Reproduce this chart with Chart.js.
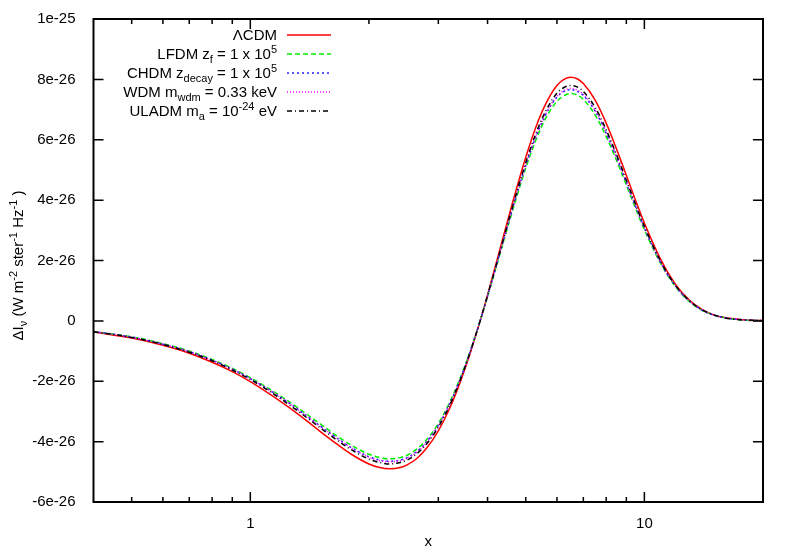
<!DOCTYPE html>
<html>
<head>
<meta charset="utf-8">
<script src="https://cdn.jsdelivr.net/npm/chart.js@4"></script>
<style>
  html, body { margin: 0; padding: 0; background: #fff; }
</style>
</head>
<body>
<canvas id="chart" width="789" height="552"></canvas>
<script>
// x values (dimensionless frequency), y in units of 1e-26 W m^-2 ster^-1 Hz^-1
const xs = [0.4, 0.5, 0.6, 0.7, 0.8, 0.9, 1.0, 1.2, 1.35, 1.5, 1.65, 1.8, 2.0, 2.13, 2.26, 2.4, 2.5, 2.65, 2.8, 3.0,
  3.2, 3.4, 3.6, 3.83, 4.0, 4.2, 4.6, 5.0, 5.25, 5.5, 5.75, 6.0, 6.25, 6.5, 6.75, 7.0, 7.5, 8.0, 8.5, 9.0,
  9.5, 10, 11, 12, 13, 14, 15, 16, 18, 20];

const lcdm = [-0.37, -0.57, -0.81, -1.07, -1.37, -1.68, -2.01, -2.69, -3.18, -3.65, -4.06, -4.41, -4.74, -4.86, -4.90, -4.86, -4.77, -4.55, -4.22, -3.64,
  -2.92, -2.07, -1.14, 0, 0.86, 1.88, 3.79, 5.42, 6.26, 6.93, 7.44, 7.80, 8.00, 8.07, 8.02, 7.86, 7.31, 6.55, 5.69, 4.82,
  3.99, 3.24, 2.04, 1.21, 0.69, 0.38, 0.20, 0.11, 0.03, 0.01];

const lfdm = [-0.35, -0.53, -0.75, -1.00, -1.28, -1.57, -1.88, -2.51, -2.97, -3.40, -3.79, -4.11, -4.42, -4.53, -4.57, -4.53, -4.45, -4.24, -3.94, -3.40,
  -2.72, -1.93, -1.06, 0, 0.81, 1.75, 3.53, 5.06, 5.84, 6.47, 6.94, 7.27, 7.46, 7.53, 7.48, 7.34, 6.82, 6.11, 5.31, 4.50,
  3.72, 3.02, 1.90, 1.13, 0.64, 0.35, 0.19, 0.10, 0.02, 0.01];

const chdm = [-0.35, -0.54, -0.77, -1.02, -1.30, -1.60, -1.91, -2.55, -3.02, -3.47, -3.86, -4.19, -4.50, -4.61, -4.65, -4.61, -4.53, -4.32, -4.01, -3.46,
  -2.77, -1.97, -1.08, 0, 0.82, 1.78, 3.60, 5.15, 5.94, 6.58, 7.07, 7.41, 7.60, 7.66, 7.61, 7.47, 6.95, 6.22, 5.41, 4.58,
  3.79, 3.08, 1.93, 1.15, 0.66, 0.36, 0.19, 0.10, 0.03, 0.01];

const wdm = [-0.35, -0.54, -0.77, -1.02, -1.31, -1.60, -1.92, -2.56, -3.04, -3.48, -3.87, -4.20, -4.52, -4.63, -4.67, -4.63, -4.55, -4.34, -4.03, -3.48,
  -2.78, -1.98, -1.09, 0, 0.82, 1.79, 3.61, 5.17, 5.97, 6.61, 7.10, 7.44, 7.63, 7.70, 7.65, 7.50, 6.98, 6.25, 5.43, 4.60,
  3.81, 3.09, 1.94, 1.16, 0.66, 0.36, 0.19, 0.10, 0.03, 0.01];

const uladm = [-0.36, -0.55, -0.78, -1.04, -1.32, -1.63, -1.94, -2.60, -3.08, -3.53, -3.93, -4.26, -4.58, -4.69, -4.74, -4.69, -4.61, -4.39, -4.08, -3.52,
  -2.82, -2.00, -1.10, 0, 0.84, 1.81, 3.66, 5.24, 6.05, 6.70, 7.19, 7.54, 7.73, 7.80, 7.75, 7.60, 7.07, 6.33, 5.50, 4.66,
  3.86, 3.13, 1.97, 1.17, 0.67, 0.37, 0.20, 0.10, 0.03, 0.01];

const yTicks = [-6, -4, -2, 0, 2, 4, 6, 8, 10];
const xMajor = [1, 10];
const xMinor = [0.5, 0.6, 0.7, 0.8, 0.9, 2, 3, 4, 5, 6, 7, 8, 9];

// legend labels: [text, 'n' | 'sub' | 'sup']
const legendLabels = [
  [["\u039BCDM", "n"]],
  [["LFDM z", "n"], ["f", "sub"], [" = 1 x 10", "n"], ["5", "sup"]],
  [["CHDM z", "n"], ["decay", "sub"], [" = 1 x 10", "n"], ["5", "sup"]],
  [["WDM m", "n"], ["wdm", "sub"], [" = 0.33 keV", "n"]],
  [["ULADM m", "n"], ["a", "sub"], [" = 10", "n"], ["-24", "sup"], [" eV", "n"]]
];
const yTitle = [["\u0394I", "n"], ["\u03BD", "sub"], [" (W m", "n"], ["-2", "sup"], [" ster", "n"], ["-1", "sup"], [" Hz", "n"], ["-1", "sup"], [" )", "n"]];

const FONT = '"Liberation Sans", Arial, sans-serif';
Chart.defaults.font.family = FONT;

function pts(ys) {
  return xs.map((x, i) => ({ x: x, y: ys[i] }));
}

function fmtY(v) {
  if (v === 0) return "0";
  if (v === 10) return "1e-25";
  return v + "e-26";
}

function richWidth(ctx, parts) {
  let w = 0;
  parts.forEach(p => {
    ctx.font = (p[1] === "n" ? "15px " : "11px ") + FONT;
    w += ctx.measureText(p[0]).width;
  });
  return w;
}

function drawRich(ctx, parts, x, y) {
  let cx = x;
  parts.forEach(p => {
    ctx.font = (p[1] === "n" ? "15px " : "11px ") + FONT;
    const dy = p[1] === "sub" ? 4 : (p[1] === "sup" ? -6 : 0);
    ctx.fillText(p[0], cx, y + dy);
    cx += ctx.measureText(p[0]).width;
  });
}

const series = [
  { label: "LCDM", data: lcdm, color: "#ff0000", dash: [], order: 4 },
  { label: "LFDM", data: lfdm, color: "#00ee00", dash: [5, 3], order: 3 },
  { label: "CHDM", data: chdm, color: "#2020ff", dash: [2, 3], order: 2 },
  { label: "WDM", data: wdm, color: "#ff00ff", dash: [1, 2], order: 1 },
  { label: "ULADM", data: uladm, color: "#000000", dash: [5, 3, 1, 3], order: 0 }
];

// border, inward ticks, legend and y title in gnuplot style
const gnuFrame = {
  id: "gnuFrame",
  afterDatasetsDraw(chart) {
    const { ctx, chartArea: a, scales: { x, y } } = chart;
    ctx.save();
    ctx.strokeStyle = "#000";
    ctx.lineWidth = 1.5;
    ctx.setLineDash([]);
    ctx.beginPath();
    yTicks.forEach(v => {
      const py = y.getPixelForValue(v);
      ctx.moveTo(a.left, py); ctx.lineTo(a.left + 10, py);
      ctx.moveTo(a.right, py); ctx.lineTo(a.right - 10, py);
    });
    xMajor.forEach(v => {
      const px = x.getPixelForValue(v);
      ctx.moveTo(px, a.bottom); ctx.lineTo(px, a.bottom - 10);
      ctx.moveTo(px, a.top); ctx.lineTo(px, a.top + 10);
    });
    xMinor.forEach(v => {
      const px = x.getPixelForValue(v);
      ctx.moveTo(px, a.bottom); ctx.lineTo(px, a.bottom - 5);
      ctx.moveTo(px, a.top); ctx.lineTo(px, a.top + 5);
    });
    ctx.stroke();
    ctx.lineWidth = 2;
    ctx.strokeRect(a.left, a.top, a.right - a.left, a.bottom - a.top);

    // legend
    ctx.fillStyle = "#000";
    ctx.textBaseline = "alphabetic";
    legendLabels.forEach((parts, i) => {
      const ly = 35 + i * 19;
      const w = richWidth(ctx, parts);
      drawRich(ctx, parts, 277 - w, ly + 5);
      const s = series[i];
      ctx.strokeStyle = s.color;
      ctx.lineWidth = 1.5;
      ctx.setLineDash(s.dash);
      ctx.beginPath();
      ctx.moveTo(287, ly); ctx.lineTo(331, ly);
      ctx.stroke();
    });
    ctx.setLineDash([]);

    // y axis title
    const tw = richWidth(ctx, yTitle);
    ctx.translate(18, (a.top + a.bottom) / 2 + 5);
    ctx.rotate(-Math.PI / 2);
    drawRich(ctx, yTitle, -tw / 2, 5);
    ctx.restore();
  }
};

new Chart(document.getElementById("chart").getContext("2d"), {
  type: "line",
  data: {
    datasets: series.map(s => ({
      label: s.label,
      data: pts(s.data),
      borderColor: s.color,
      borderWidth: 1.5,
      borderDash: s.dash,
      pointRadius: 0,
      fill: false,
      cubicInterpolationMode: "monotone",
      order: s.order
    }))
  },
  options: {
    responsive: false,
    animation: false,
    layout: { padding: { top: 17, right: 26, bottom: 0, left: 0 } },
    plugins: { legend: { display: false }, tooltip: { enabled: false } },
    scales: {
      x: {
        type: "logarithmic",
        min: 0.4,
        max: 20,
        afterBuildTicks: s => { s.ticks = xMajor.map(v => ({ value: v })); },
        afterFit: s => { s.height = 50; },
        grid: { display: false },
        border: { display: false },
        ticks: { color: "#000", font: { size: 15 }, padding: 5, autoSkip: false, maxRotation: 0, callback: v => String(v) },
        title: { display: true, text: "x", color: "#000", font: { size: 15 }, padding: { top: 0, bottom: 1 } }
      },
      y: {
        min: -6,
        max: 10,
        afterBuildTicks: s => { s.ticks = yTicks.map(v => ({ value: v })); },
        afterFit: s => { s.width = 93.5; },
        grid: { display: false },
        border: { display: false },
        ticks: { color: "#000", font: { size: 15 }, padding: 10, callback: v => fmtY(v) }
      }
    }
  },
  plugins: [gnuFrame]
});
</script>
</body>
</html>
